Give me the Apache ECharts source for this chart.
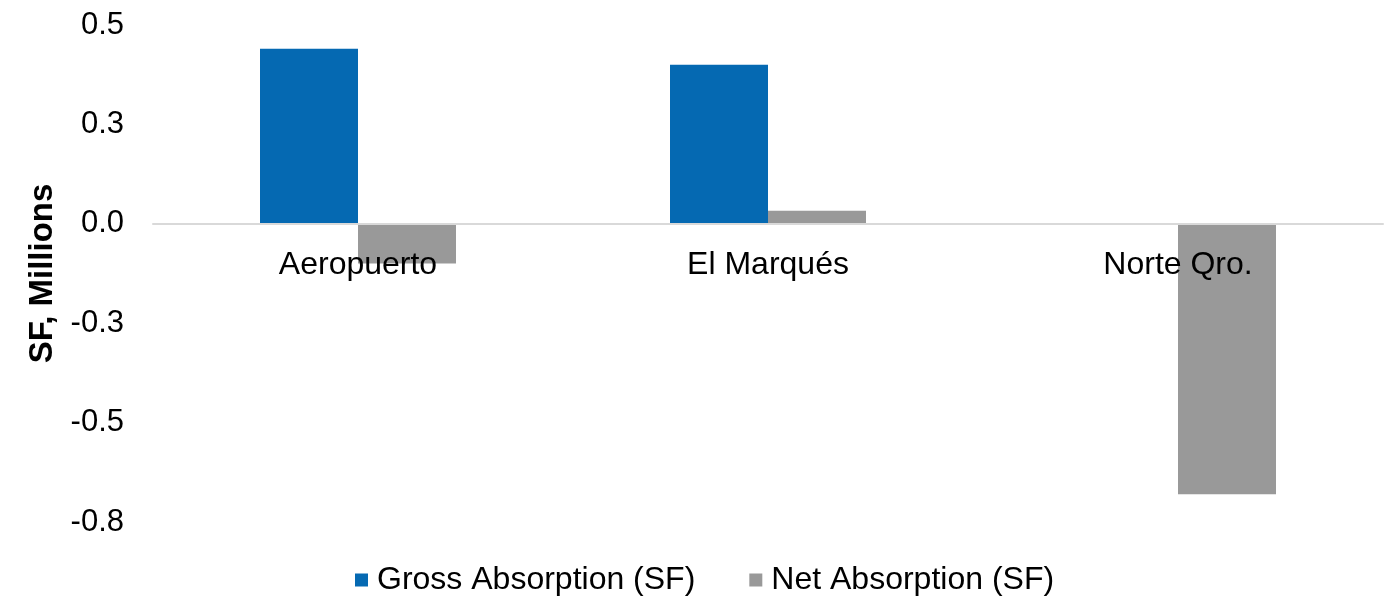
<!DOCTYPE html>
<html>
<head>
<meta charset="utf-8">
<script src="https://cdn.jsdelivr.net/npm/echarts@6/dist/echarts.min.js"></script>
<style>
  html, body { margin: 0; padding: 0; background: #ffffff; }
  #chart { width: 1398px; height: 599px; }
</style>
</head>
<body>
<div id="chart"></div>
<script>
// Submarkets shown on the category axis
const categories = ['Aeropuerto', 'El Marqués', 'Norte Qro.'];
// Absorption in millions of square feet
const grossAbsorption = [0.44, 0.40, 0];
const netAbsorption = [-0.10, 0.033, -0.68];
// Value-axis range and step (labels are rounded to one decimal)
const yMin = -0.75;
const yMax = 0.5;
const yStep = 0.25;

const FONT = '"Liberation Sans", Arial, sans-serif';

// Plot area geometry
const GRID_TOP = 25;
const GRID_BOTTOM = 77;
const CHART_H = 599;
const plotH = CHART_H - GRID_TOP - GRID_BOTTOM;
// Lift the category axis so it runs along the zero line
const zeroOffset = -((0 - yMin) / (yMax - yMin)) * plotH;

const chart = echarts.init(document.getElementById('chart'));
chart.setOption({
  animation: false,
  backgroundColor: '#ffffff',
  textStyle: { fontFamily: FONT, color: '#000000' },
  grid: { left: 153, right: 15, top: GRID_TOP, bottom: GRID_BOTTOM, containLabel: false },
  legend: {
    bottom: -2,
    left: 350,
    icon: 'rect',
    itemWidth: 13,
    itemHeight: 13,
    itemGap: 54,
    textStyle: { fontFamily: FONT, fontSize: 32, color: '#000000', padding: [0, 0, 0, 4] },
    data: ['Gross Absorption (SF)', 'Net Absorption (SF)']
  },
  xAxis: {
    type: 'category',
    data: categories,
    z: 10,
    offset: zeroOffset,
    axisLine: { onZero: false, lineStyle: { color: '#d9d9d9', width: 2 } },
    axisTick: { show: false },
    axisLabel: { fontFamily: FONT, fontSize: 32, color: '#000000', margin: 25 },
    splitLine: { show: false }
  },
  yAxis: {
    type: 'value',
    min: yMin,
    max: yMax,
    interval: yStep,
    name: 'SF, Millions',
    nameLocation: 'middle',
    nameGap: 84,
    nameTextStyle: { fontFamily: FONT, fontSize: 33, fontWeight: 'bold', color: '#000000' },
    axisLine: { show: false },
    axisTick: { show: false },
    splitLine: { show: false },
    axisLabel: {
      fontFamily: FONT,
      fontSize: 31,
      color: '#000000',
      margin: 29,
      formatter: v => v.toFixed(1)
    }
  },
  series: [
    {
      name: 'Gross Absorption (SF)',
      type: 'bar',
      data: grossAbsorption,
      barWidth: 98,
      barGap: '0%',
      itemStyle: { color: '#0569b2' }
    },
    {
      name: 'Net Absorption (SF)',
      type: 'bar',
      data: netAbsorption,
      barWidth: 98,
      barGap: '0%',
      itemStyle: { color: '#999999' }
    }
  ]
});
</script>
</body>
</html>
